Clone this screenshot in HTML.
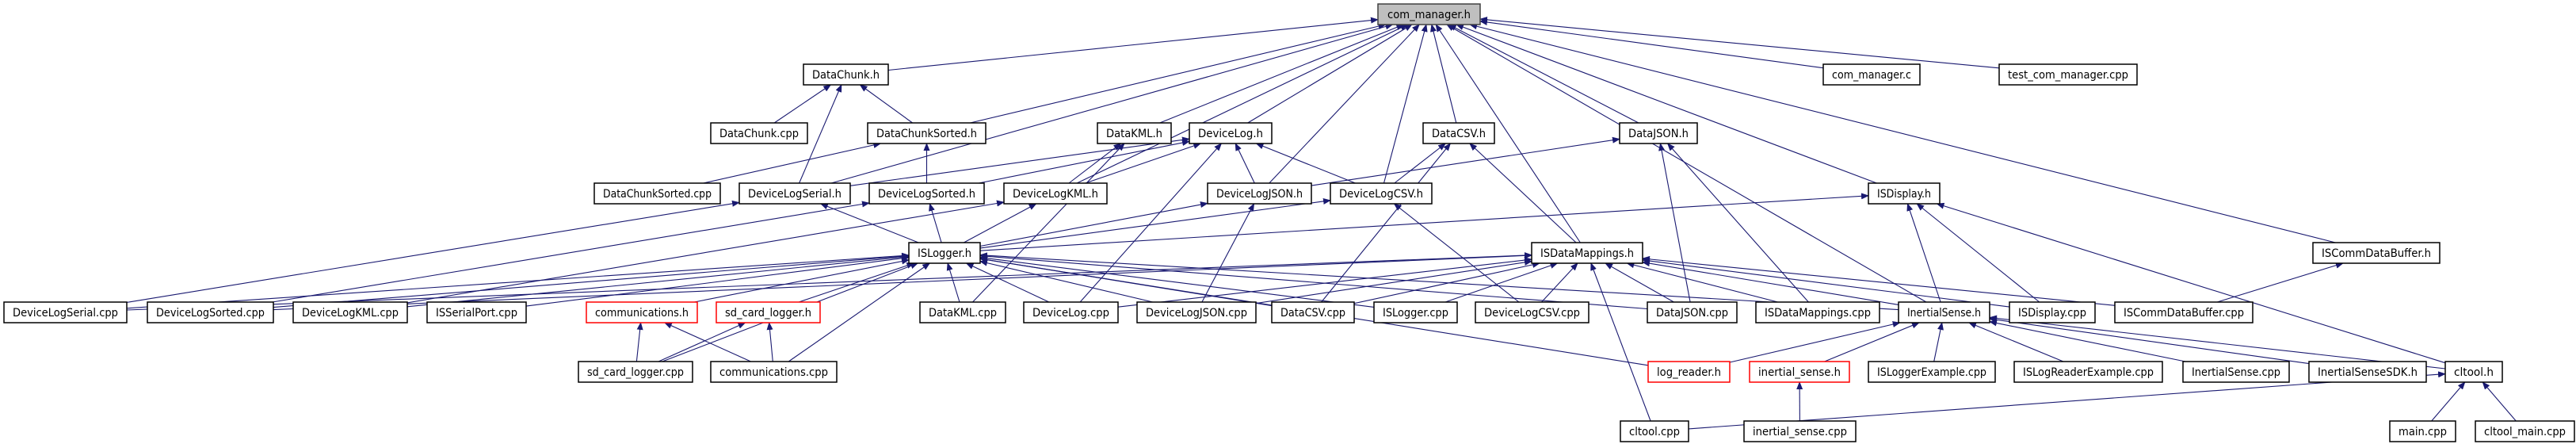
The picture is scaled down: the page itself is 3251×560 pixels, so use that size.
<!DOCTYPE html>
<html><head><meta charset="utf-8"><style>
html,body{margin:0;padding:0;background:#fff;width:3251px;height:560px;overflow:hidden}
svg{display:block}
text{font-family:"DejaVu Sans Condensed","DejaVu Sans","Liberation Sans",sans-serif;font-size:14px;fill:#000}
</style></head><body>
<svg id="g" width="3251" height="560" xmlns="http://www.w3.org/2000/svg">
<defs><marker id="a" markerWidth="10" markerHeight="8" refX="9" refY="4" orient="auto" markerUnits="userSpaceOnUse"><path d="M0,0 L10,4 L0,8 z" fill="#191970"/></marker></defs>
<g id="edges" fill="none" stroke="#191970" stroke-width="1.1"></g>
<g id="nodes">
<rect x="1739" y="5" width="129" height="26" fill="#bfbfbf" stroke="#404040" stroke-width="1.5"/><text x="1803.5" y="23" text-anchor="middle" textLength="105" lengthAdjust="spacingAndGlyphs">com_manager.h</text>
<rect x="1014" y="81" width="107" height="26" fill="#fff" stroke="#000" stroke-width="1.5"/><text x="1067.5" y="99" text-anchor="middle" textLength="85" lengthAdjust="spacingAndGlyphs">DataChunk.h</text>
<rect x="2301" y="81" width="122" height="26" fill="#fff" stroke="#000" stroke-width="1.5"/><text x="2362" y="99" text-anchor="middle" textLength="100" lengthAdjust="spacingAndGlyphs">com_manager.c</text>
<rect x="2523" y="81" width="174" height="26" fill="#fff" stroke="#000" stroke-width="1.5"/><text x="2610" y="99" text-anchor="middle" textLength="152" lengthAdjust="spacingAndGlyphs">test_com_manager.cpp</text>
<rect x="897" y="155" width="122" height="26" fill="#fff" stroke="#000" stroke-width="1.5"/><text x="958" y="173" text-anchor="middle" textLength="100" lengthAdjust="spacingAndGlyphs">DataChunk.cpp</text>
<rect x="1095" y="155" width="149" height="26" fill="#fff" stroke="#000" stroke-width="1.5"/><text x="1169.5" y="173" text-anchor="middle" textLength="127" lengthAdjust="spacingAndGlyphs">DataChunkSorted.h</text>
<rect x="1385" y="155" width="93" height="26" fill="#fff" stroke="#000" stroke-width="1.5"/><text x="1431.5" y="173" text-anchor="middle" textLength="71" lengthAdjust="spacingAndGlyphs">DataKML.h</text>
<rect x="1501" y="155" width="104" height="26" fill="#fff" stroke="#000" stroke-width="1.5"/><text x="1553" y="173" text-anchor="middle" textLength="82" lengthAdjust="spacingAndGlyphs">DeviceLog.h</text>
<rect x="1796" y="155" width="90" height="26" fill="#fff" stroke="#000" stroke-width="1.5"/><text x="1841" y="173" text-anchor="middle" textLength="68" lengthAdjust="spacingAndGlyphs">DataCSV.h</text>
<rect x="2044" y="155" width="98" height="26" fill="#fff" stroke="#000" stroke-width="1.5"/><text x="2093" y="173" text-anchor="middle" textLength="76" lengthAdjust="spacingAndGlyphs">DataJSON.h</text>
<rect x="750" y="231" width="159" height="26" fill="#fff" stroke="#000" stroke-width="1.5"/><text x="829.5" y="249" text-anchor="middle" textLength="137" lengthAdjust="spacingAndGlyphs">DataChunkSorted.cpp</text>
<rect x="933" y="231" width="140" height="26" fill="#fff" stroke="#000" stroke-width="1.5"/><text x="1003" y="249" text-anchor="middle" textLength="118" lengthAdjust="spacingAndGlyphs">DeviceLogSerial.h</text>
<rect x="1097" y="231" width="145" height="26" fill="#fff" stroke="#000" stroke-width="1.5"/><text x="1169.5" y="249" text-anchor="middle" textLength="123" lengthAdjust="spacingAndGlyphs">DeviceLogSorted.h</text>
<rect x="1267" y="231" width="130" height="26" fill="#fff" stroke="#000" stroke-width="1.5"/><text x="1332" y="249" text-anchor="middle" textLength="108" lengthAdjust="spacingAndGlyphs">DeviceLogKML.h</text>
<rect x="1524" y="231" width="131" height="26" fill="#fff" stroke="#000" stroke-width="1.5"/><text x="1589.5" y="249" text-anchor="middle" textLength="109" lengthAdjust="spacingAndGlyphs">DeviceLogJSON.h</text>
<rect x="1679" y="231" width="128" height="26" fill="#fff" stroke="#000" stroke-width="1.5"/><text x="1743" y="249" text-anchor="middle" textLength="106" lengthAdjust="spacingAndGlyphs">DeviceLogCSV.h</text>
<rect x="2358" y="231" width="90" height="26" fill="#fff" stroke="#000" stroke-width="1.5"/><text x="2403" y="249" text-anchor="middle" textLength="68" lengthAdjust="spacingAndGlyphs">ISDisplay.h</text>
<rect x="1147" y="306" width="90" height="26" fill="#fff" stroke="#000" stroke-width="1.5"/><text x="1192" y="324" text-anchor="middle" textLength="68" lengthAdjust="spacingAndGlyphs">ISLogger.h</text>
<rect x="1933" y="306" width="140" height="26" fill="#fff" stroke="#000" stroke-width="1.5"/><text x="2003" y="324" text-anchor="middle" textLength="118" lengthAdjust="spacingAndGlyphs">ISDataMappings.h</text>
<rect x="2919" y="306" width="160" height="26" fill="#fff" stroke="#000" stroke-width="1.5"/><text x="2999" y="324" text-anchor="middle" textLength="138" lengthAdjust="spacingAndGlyphs">ISCommDataBuffer.h</text>
<rect x="5" y="381" width="155" height="26" fill="#fff" stroke="#000" stroke-width="1.5"/><text x="82.5" y="399" text-anchor="middle" textLength="133" lengthAdjust="spacingAndGlyphs">DeviceLogSerial.cpp</text>
<rect x="186" y="381" width="159" height="26" fill="#fff" stroke="#000" stroke-width="1.5"/><text x="265.5" y="399" text-anchor="middle" textLength="137" lengthAdjust="spacingAndGlyphs">DeviceLogSorted.cpp</text>
<rect x="370" y="381" width="144" height="26" fill="#fff" stroke="#000" stroke-width="1.5"/><text x="442" y="399" text-anchor="middle" textLength="122" lengthAdjust="spacingAndGlyphs">DeviceLogKML.cpp</text>
<rect x="539" y="381" width="125" height="26" fill="#fff" stroke="#000" stroke-width="1.5"/><text x="601.5" y="399" text-anchor="middle" textLength="103" lengthAdjust="spacingAndGlyphs">ISSerialPort.cpp</text>
<rect x="740" y="381" width="140" height="26" fill="#fff" stroke="#ff0000" stroke-width="1.5"/><text x="810" y="399" text-anchor="middle" textLength="118" lengthAdjust="spacingAndGlyphs">communications.h</text>
<rect x="904" y="381" width="131" height="26" fill="#fff" stroke="#ff0000" stroke-width="1.5"/><text x="969.5" y="399" text-anchor="middle" textLength="109" lengthAdjust="spacingAndGlyphs">sd_card_logger.h</text>
<rect x="1161" y="381" width="108" height="26" fill="#fff" stroke="#000" stroke-width="1.5"/><text x="1215" y="399" text-anchor="middle" textLength="86" lengthAdjust="spacingAndGlyphs">DataKML.cpp</text>
<rect x="1292" y="381" width="119" height="26" fill="#fff" stroke="#000" stroke-width="1.5"/><text x="1351.5" y="399" text-anchor="middle" textLength="97" lengthAdjust="spacingAndGlyphs">DeviceLog.cpp</text>
<rect x="1435" y="381" width="150" height="26" fill="#fff" stroke="#000" stroke-width="1.5"/><text x="1510" y="399" text-anchor="middle" textLength="128" lengthAdjust="spacingAndGlyphs">DeviceLogJSON.cpp</text>
<rect x="1605" y="381" width="104" height="26" fill="#fff" stroke="#000" stroke-width="1.5"/><text x="1657" y="399" text-anchor="middle" textLength="82" lengthAdjust="spacingAndGlyphs">DataCSV.cpp</text>
<rect x="1734" y="381" width="105" height="26" fill="#fff" stroke="#000" stroke-width="1.5"/><text x="1786.5" y="399" text-anchor="middle" textLength="83" lengthAdjust="spacingAndGlyphs">ISLogger.cpp</text>
<rect x="1862" y="381" width="143" height="26" fill="#fff" stroke="#000" stroke-width="1.5"/><text x="1933.5" y="399" text-anchor="middle" textLength="121" lengthAdjust="spacingAndGlyphs">DeviceLogCSV.cpp</text>
<rect x="2079" y="381" width="113" height="26" fill="#fff" stroke="#000" stroke-width="1.5"/><text x="2135.5" y="399" text-anchor="middle" textLength="91" lengthAdjust="spacingAndGlyphs">DataJSON.cpp</text>
<rect x="2216" y="381" width="156" height="26" fill="#fff" stroke="#000" stroke-width="1.5"/><text x="2294" y="399" text-anchor="middle" textLength="134" lengthAdjust="spacingAndGlyphs">ISDataMappings.cpp</text>
<rect x="2396" y="381" width="115" height="26" fill="#fff" stroke="#000" stroke-width="1.5"/><text x="2453.5" y="399" text-anchor="middle" textLength="93" lengthAdjust="spacingAndGlyphs">InertialSense.h</text>
<rect x="2536" y="381" width="108" height="26" fill="#fff" stroke="#000" stroke-width="1.5"/><text x="2590" y="399" text-anchor="middle" textLength="86" lengthAdjust="spacingAndGlyphs">ISDisplay.cpp</text>
<rect x="2669" y="381" width="174" height="26" fill="#fff" stroke="#000" stroke-width="1.5"/><text x="2756" y="399" text-anchor="middle" textLength="152" lengthAdjust="spacingAndGlyphs">ISCommDataBuffer.cpp</text>
<rect x="730" y="456" width="144" height="26" fill="#fff" stroke="#000" stroke-width="1.5"/><text x="802" y="474" text-anchor="middle" textLength="122" lengthAdjust="spacingAndGlyphs">sd_card_logger.cpp</text>
<rect x="2080" y="456" width="103" height="26" fill="#fff" stroke="#ff0000" stroke-width="1.5"/><text x="2131.5" y="474" text-anchor="middle" textLength="81" lengthAdjust="spacingAndGlyphs">log_reader.h</text>
<rect x="2208" y="456" width="126" height="26" fill="#fff" stroke="#ff0000" stroke-width="1.5"/><text x="2271" y="474" text-anchor="middle" textLength="104" lengthAdjust="spacingAndGlyphs">inertial_sense.h</text>
<rect x="2358" y="456" width="160" height="26" fill="#fff" stroke="#000" stroke-width="1.5"/><text x="2438" y="474" text-anchor="middle" textLength="138" lengthAdjust="spacingAndGlyphs">ISLoggerExample.cpp</text>
<rect x="2542" y="456" width="187" height="26" fill="#fff" stroke="#000" stroke-width="1.5"/><text x="2635.5" y="474" text-anchor="middle" textLength="165" lengthAdjust="spacingAndGlyphs">ISLogReaderExample.cpp</text>
<rect x="2755" y="456" width="134" height="26" fill="#fff" stroke="#000" stroke-width="1.5"/><text x="2822" y="474" text-anchor="middle" textLength="112" lengthAdjust="spacingAndGlyphs">InertialSense.cpp</text>
<rect x="2914" y="456" width="148" height="26" fill="#fff" stroke="#000" stroke-width="1.5"/><text x="2988" y="474" text-anchor="middle" textLength="126" lengthAdjust="spacingAndGlyphs">InertialSenseSDK.h</text>
<rect x="3086" y="456" width="72" height="26" fill="#fff" stroke="#000" stroke-width="1.5"/><text x="3122" y="474" text-anchor="middle" textLength="50" lengthAdjust="spacingAndGlyphs">cltool.h</text>
<rect x="897" y="456" width="159" height="26" fill="#fff" stroke="#000" stroke-width="1.5"/><text x="976.5" y="474" text-anchor="middle" textLength="137" lengthAdjust="spacingAndGlyphs">communications.cpp</text>
<rect x="2045" y="531" width="86" height="26" fill="#fff" stroke="#000" stroke-width="1.5"/><text x="2088" y="549" text-anchor="middle" textLength="64" lengthAdjust="spacingAndGlyphs">cltool.cpp</text>
<rect x="2201" y="531" width="141" height="26" fill="#fff" stroke="#000" stroke-width="1.5"/><text x="2271.5" y="549" text-anchor="middle" textLength="119" lengthAdjust="spacingAndGlyphs">inertial_sense.cpp</text>
<rect x="3016" y="531" width="83" height="26" fill="#fff" stroke="#000" stroke-width="1.5"/><text x="3057.5" y="549" text-anchor="middle" textLength="61" lengthAdjust="spacingAndGlyphs">main.cpp</text>
<rect x="3124" y="531" width="125" height="26" fill="#fff" stroke="#000" stroke-width="1.5"/><text x="3186.5" y="549" text-anchor="middle" textLength="103" lengthAdjust="spacingAndGlyphs">cltool_main.cpp</text>
</g>
</svg>
<script>
(function(){
var N={};
var rects=document.querySelectorAll('#nodes rect'),texts=document.querySelectorAll('#nodes text');
for(var i=0;i<rects.length;i++){var r=rects[i];N[texts[i].textContent]={x:+r.getAttribute('x'),y:+r.getAttribute('y'),w:+r.getAttribute('width'),h:+r.getAttribute('height')};}
var E=[
["DataChunk.h","com_manager.h"],["DataChunkSorted.h","com_manager.h"],["DeviceLogSerial.h","com_manager.h"],["DeviceLogKML.h","com_manager.h"],["DataKML.h","com_manager.h"],["DeviceLog.h","com_manager.h"],["DeviceLogJSON.h","com_manager.h"],["DeviceLogCSV.h","com_manager.h"],["DataCSV.h","com_manager.h"],["ISDataMappings.h","com_manager.h"],["DataJSON.h","com_manager.h"],["InertialSense.h","com_manager.h"],["ISDisplay.h","com_manager.h"],["com_manager.c","com_manager.h"],["test_com_manager.cpp","com_manager.h"],["ISCommDataBuffer.h","com_manager.h"],
["DataChunk.cpp","DataChunk.h"],["DataChunkSorted.h","DataChunk.h"],["DeviceLogSerial.h","DataChunk.h"],
["DataChunkSorted.cpp","DataChunkSorted.h"],["DeviceLogSorted.h","DataChunkSorted.h"],
["DeviceLogKML.h","DataKML.h"],["DataKML.cpp","DataKML.h"],
["DeviceLogSerial.h","DeviceLog.h"],["DeviceLogSorted.h","DeviceLog.h"],["DeviceLogKML.h","DeviceLog.h"],["DeviceLogJSON.h","DeviceLog.h"],["DeviceLogCSV.h","DeviceLog.h"],["DeviceLog.cpp","DeviceLog.h"],
["DeviceLogCSV.h","DataCSV.h"],["DataCSV.cpp","DataCSV.h"],["ISDataMappings.h","DataCSV.h"],
["DeviceLogJSON.h","DataJSON.h"],["DataJSON.cpp","DataJSON.h"],["ISDataMappings.cpp","DataJSON.h"],
["ISLogger.h","DeviceLogSerial.h"],["DeviceLogSerial.cpp","DeviceLogSerial.h"],
["ISLogger.h","DeviceLogSorted.h"],["DeviceLogSorted.cpp","DeviceLogSorted.h"],
["ISLogger.h","DeviceLogKML.h"],["DeviceLogKML.cpp","DeviceLogKML.h"],
["ISLogger.h","DeviceLogJSON.h"],["DeviceLogJSON.cpp","DeviceLogJSON.h"],
["ISLogger.h","DeviceLogCSV.h"],["DeviceLogCSV.cpp","DeviceLogCSV.h"],
["ISLogger.h","ISDisplay.h"],["InertialSense.h","ISDisplay.h"],["ISDisplay.cpp","ISDisplay.h"],["cltool.h","ISDisplay.h"],
["DeviceLogSerial.cpp","ISLogger.h"],["DeviceLogSorted.cpp","ISLogger.h"],["DeviceLogKML.cpp","ISLogger.h"],["ISSerialPort.cpp","ISLogger.h"],["communications.h","ISLogger.h"],["sd_card_logger.h","ISLogger.h"],["sd_card_logger.cpp","ISLogger.h"],["communications.cpp","ISLogger.h"],["DataKML.cpp","ISLogger.h"],["DeviceLog.cpp","ISLogger.h"],["DeviceLogJSON.cpp","ISLogger.h"],["DataCSV.cpp","ISLogger.h"],["ISLogger.cpp","ISLogger.h"],["DataJSON.cpp","ISLogger.h"],["InertialSense.h","ISLogger.h"],["log_reader.h","ISLogger.h"],
["DeviceLogSerial.cpp","ISDataMappings.h"],["DeviceLogSorted.cpp","ISDataMappings.h"],["DeviceLog.cpp","ISDataMappings.h"],["DeviceLogJSON.cpp","ISDataMappings.h"],["DataCSV.cpp","ISDataMappings.h"],["ISLogger.cpp","ISDataMappings.h"],["DeviceLogCSV.cpp","ISDataMappings.h"],["DataJSON.cpp","ISDataMappings.h"],["ISDataMappings.cpp","ISDataMappings.h"],["InertialSense.h","ISDataMappings.h"],["ISDisplay.cpp","ISDataMappings.h"],["ISCommDataBuffer.cpp","ISDataMappings.h"],["cltool.cpp","ISDataMappings.h"],
["sd_card_logger.cpp","communications.h"],["communications.cpp","communications.h"],
["sd_card_logger.cpp","sd_card_logger.h"],["communications.cpp","sd_card_logger.h"],
["log_reader.h","InertialSense.h"],["inertial_sense.h","InertialSense.h"],["ISLoggerExample.cpp","InertialSense.h"],["ISLogReaderExample.cpp","InertialSense.h"],["InertialSense.cpp","InertialSense.h"],["InertialSenseSDK.h","InertialSense.h"],["cltool.h","InertialSense.h"],
["ISCommDataBuffer.cpp","ISCommDataBuffer.h"],["inertial_sense.cpp","inertial_sense.h"],
["main.cpp","cltool.h"],["cltool_main.cpp","cltool.h"],["cltool.cpp","cltool.h"]
];
function clip(b,cx,cy,dx,dy){var hw=b.w/2,hh=b.h/2,t=Infinity;if(dx)t=Math.min(t,hw/Math.abs(dx));if(dy)t=Math.min(t,hh/Math.abs(dy));return[cx+dx*t,cy+dy*t];}
var g=document.getElementById('edges'),s='';
E.forEach(function(e){var c=N[e[0]],p=N[e[1]];if(!c||!p)return;
var cx=c.x+c.w/2,cy=c.y+c.h/2,px=p.x+p.w/2,py=p.y+p.h/2;
var dx=px-cx,dy=py-cy,l=Math.hypot(dx,dy);dx/=l;dy/=l;
var a=clip(c,cx,cy,dx,dy),b=clip(p,px,py,-dx,-dy);
s+='<path d="M'+a[0].toFixed(1)+','+a[1].toFixed(1)+' L'+b[0].toFixed(1)+','+b[1].toFixed(1)+'" marker-end="url(#a)"/>';});
g.innerHTML=s;
})();
</script>
</body></html>
